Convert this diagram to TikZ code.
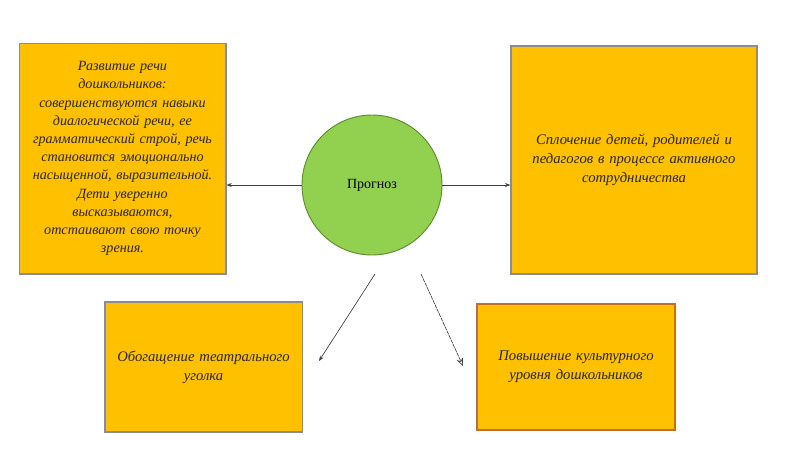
\documentclass[tikz,border=0pt]{standalone}
\usepackage{fontspec}
\setmainfont{Liberation Serif}
\usetikzlibrary{arrows.meta}

\definecolor{boxfill}{HTML}{FFC000}
\definecolor{boxline}{HTML}{8C8C8C}
\definecolor{boxlineB}{HTML}{C0702A}
\definecolor{ballfill}{HTML}{92D050}
\definecolor{ballline}{HTML}{5E8C2E}

\tikzset{
  item/.style={draw=boxline, line width=1pt, fill=boxfill, inner sep=2pt,
    align=center, font=\itshape\fontsize{11}{14}\selectfont, text=black!85},
  link/.style={-{Stealth[length=4pt,width=3pt]}, line width=0.5pt, black!75}
}

\begin{document}
\begin{tikzpicture}[x=0.75pt, y=-0.75pt]
		% page of 800 x 450 px
		\useasboundingbox (0,0) rectangle (800,450);
		
		\node[circle, draw=ballline, fill=ballfill, line width=0.7pt,
		      minimum size=105pt, font=\fontsize{10.5}{12}\selectfont] (prognoz) at (372,185) {Прогноз};
		
		\node[item, font=\itshape\fontsize{10.6}{13.65}\selectfont, minimum width=155pt, minimum height=173pt, text width=150pt] (speech) at (122.5,158.5)
		  {Развитие речи\\ дошкольников:\\ совершенствуются навыки\\ диалогической речи, ее\\ грамматический строй, речь\\ становится эмоционально\\ насыщенной, выразительной.\\ Дети уверенно\\ высказываются,\\ отстаивают свою точку\\ зрения.};
		\node[item, minimum width=184.5pt, minimum height=171pt, text width=178pt] (unity) at (634,160)
		  {Сплочение детей, родителей и\\ педагогов в процессе активного\\ сотрудничества\\[-12pt]};
		\node[item, minimum width=148pt, minimum height=97.5pt, text width=142pt] (theatre) at (203.5,367)
		  {Обогащение театрального\\ уголка};
		\node[item, draw=boxlineB, minimum width=148.5pt, minimum height=94.5pt, text width=142pt] (culture) at (576,367)
		  {Повышение культурного\\ уровня дошкольников\\[6pt]};
		
		\draw[link] (prognoz.west) -- (prognoz.west -| speech.east);
		\draw[link] (prognoz.east) -- (prognoz.east -| unity.west);
		
		% the lower arrows start under the circle and stop short of the boxes
		\coordinate (dlfrom) at (375,274);
		\coordinate (dlto) at (319,361);
		\coordinate (drfrom) at (421,274);
		\coordinate (drto) at (463,366);
		\draw[link] (dlfrom) -- (dlto);
		\draw[-{Stealth[open,length=6pt,width=5pt]}, dash pattern=on 3pt off 0.6pt,
		      line width=0.5pt, black!75] (drfrom) -- (drto);
	\end{tikzpicture}
\end{document}
